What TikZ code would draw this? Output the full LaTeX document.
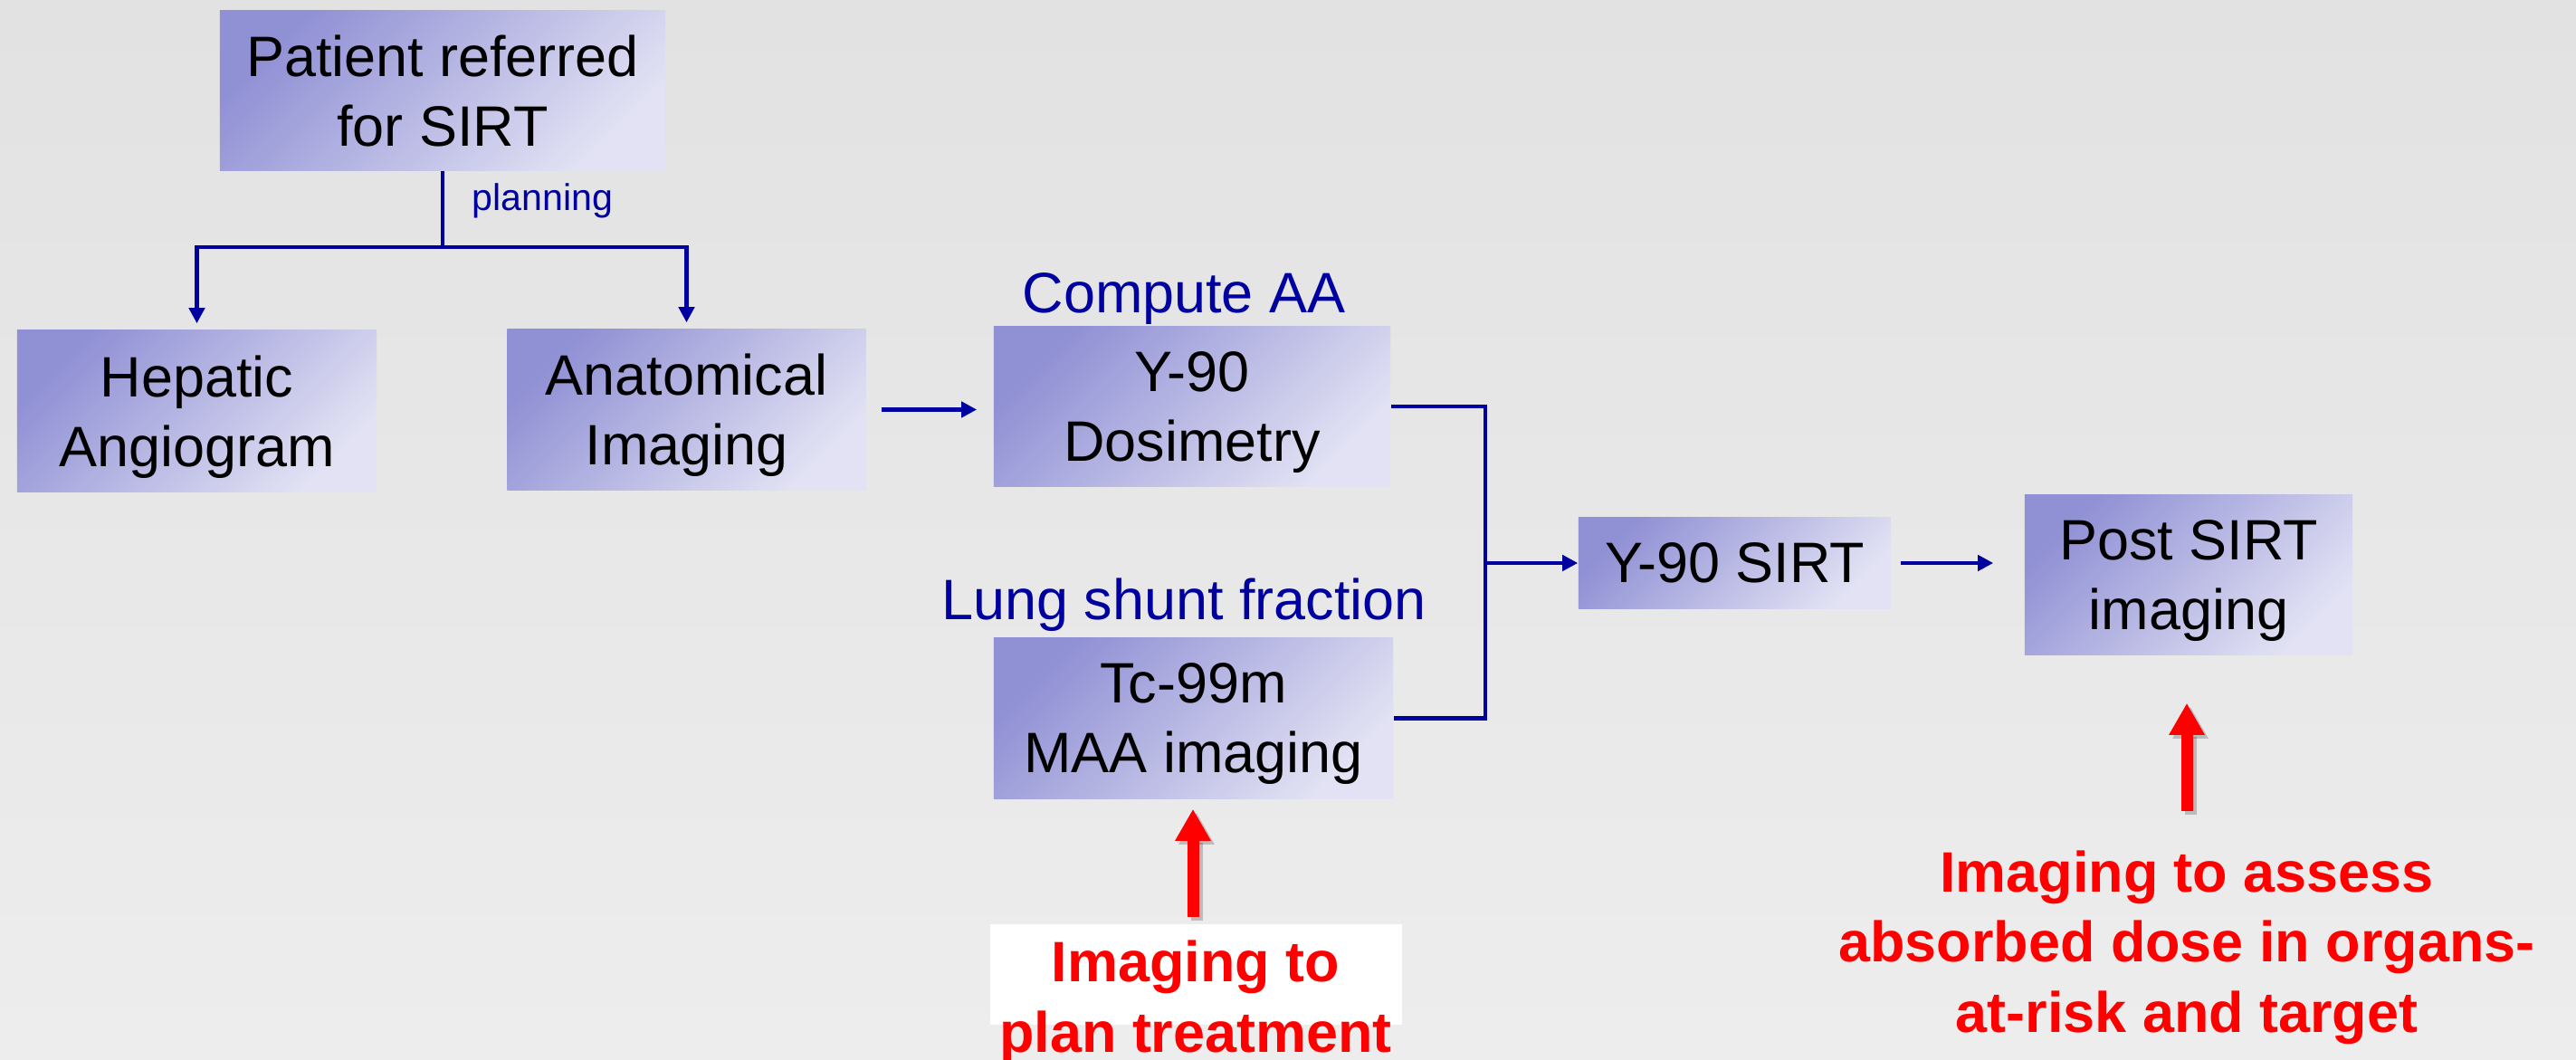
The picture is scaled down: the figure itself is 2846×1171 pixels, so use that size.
\documentclass[tikz,border=0pt]{standalone}
\usepackage{fontspec}
\setmainfont{Liberation Sans}
\usetikzlibrary{arrows.meta, calc}

\begin{document}
\begin{tikzpicture}[x=0.01cm, y=-0.01cm,
    box/.style={inner sep=0pt, align=center, text depth=0pt, top color=boxdark, bottom color=boxlight, shading angle=45, font=\fontsize{17.9pt}{21.9pt}\selectfont},
    flow/.style={draw=flowblue, line width=1.4pt},
    flowarrow/.style={flow, -{Triangle[length=0.17cm, width=0.17cm]}},
    bluelabel/.style={text=flowblue, inner sep=0pt, anchor=base, font=\fontsize{17.9pt}{21.9pt}\selectfont},
    redtext/.style={text=red, inner sep=0pt, align=center, anchor=base, font=\fontsize{17.9pt}{21.9pt}\bfseries\selectfont},
    bigarrow/.style={draw=red, line width=0.13cm, -{Triangle[length=0.35cm, width=0.37cm]}}]

%my colors
\definecolor{bgtop}{RGB}{226,226,226}
\definecolor{bgbottom}{RGB}{237,237,237}
\definecolor{boxdark}{RGB}{144,144,213}
\definecolor{boxlight}{RGB}{226,226,244}
\definecolor{flowblue}{RGB}{0,0,160}

    % Background of the slide
    \shade[top color=bgtop, bottom color=bgbottom] (0,0) rectangle (2846,1171);
    \useasboundingbox (0,0) rectangle (2846,1171);

    % Steps of the workflow
    \node[box, minimum width=4.92cm, minimum height=1.76cm] (patient) at (489,100) {Patient referred\\for SIRT};
    \node[box, minimum width=3.97cm, minimum height=1.78cm] (hepatic) at (217.5,454) {Hepatic\\Angiogram};
    \node[box, minimum width=3.96cm, minimum height=1.77cm] (anatom) at (758.5,452.5) {Anatomical\\Imaging};
    \node[box, minimum width=4.38cm, minimum height=1.76cm] (dosim) at (1317,449) {Y-90\\Dosimetry};
    \node[box, minimum width=4.41cm, minimum height=1.77cm] (tcmaa) at (1318.5,793.5) {Tc-99m\\MAA imaging};
    \node[box, minimum width=3.45cm, minimum height=1.00cm] (sirt) at (1916.5,622) {Y-90 SIRT};
    \node[box, minimum width=3.62cm, minimum height=1.76cm] (post) at (2418,635) {Post SIRT\\imaging};

    % Labels above the boxes
    \node[bluelabel] (computeaa) at (1308,346) {Compute AA};
    \node[bluelabel] (lungshunt) at (1308,685) {Lung shunt fraction};
    \node[bluelabel, anchor=base west, font=\fontsize{11.7pt}{14pt}\selectfont] (planning) at (521,233) {planning};

    % Planning branches
    \coordinate (split) at (489,273);
    \draw[flow] (patient.south) -- (split);
    \draw[flowarrow, shorten >=0.07cm] (split) -| (hepatic.north);
    \draw[flowarrow, shorten >=0.07cm] (split) -| (anatom.north);
    \draw[flowarrow, shorten <=0.17cm, shorten >=0.18cm] (anatom.east) -- (anatom.east -| dosim.west);

    % Dosimetry and shunt merge into the treatment
    \coordinate (merge) at (1641,622);
    \draw[flow] (dosim.east) -| (merge);
    \draw[flow] (tcmaa.east) -| (merge);
    \draw[flowarrow] (merge) -- (sirt.west);
    \draw[flowarrow, shorten <=0.10cm, shorten >=0.34cm] (sirt.east) -- (sirt.east -| post.west);

    % Red arrows with a soft shadow
    \coordinate (planfoot) at (1318,1013);
    \coordinate (assessfoot) at (2416,896);
    \draw[bigarrow, draw=black, opacity=0.2, shorten >=0.11cm] ([shift={(4,4)}]planfoot) -- ([shift={(4,4)}]planfoot |- tcmaa.south);
    \draw[bigarrow, draw=black, opacity=0.2, shorten >=0.53cm] ([shift={(4,4)}]assessfoot) -- ([shift={(4,4)}]assessfoot |- post.south);
    \draw[bigarrow, shorten >=0.11cm] (planfoot) -- (planfoot |- tcmaa.south);
    \draw[bigarrow, shorten >=0.53cm] (assessfoot) -- (assessfoot |- post.south);

    % Notes in red (base is the last line)
    \fill[white] (1094,1021) rectangle (1549,1132);
    \node[redtext] (plantext) at (1321,1162) {Imaging to\\plan treatment};
    \node[redtext] (assesstext) at (2416,1140) {Imaging to assess\\absorbed dose in organs-\\at-risk and target};

\end{tikzpicture}
\end{document}
